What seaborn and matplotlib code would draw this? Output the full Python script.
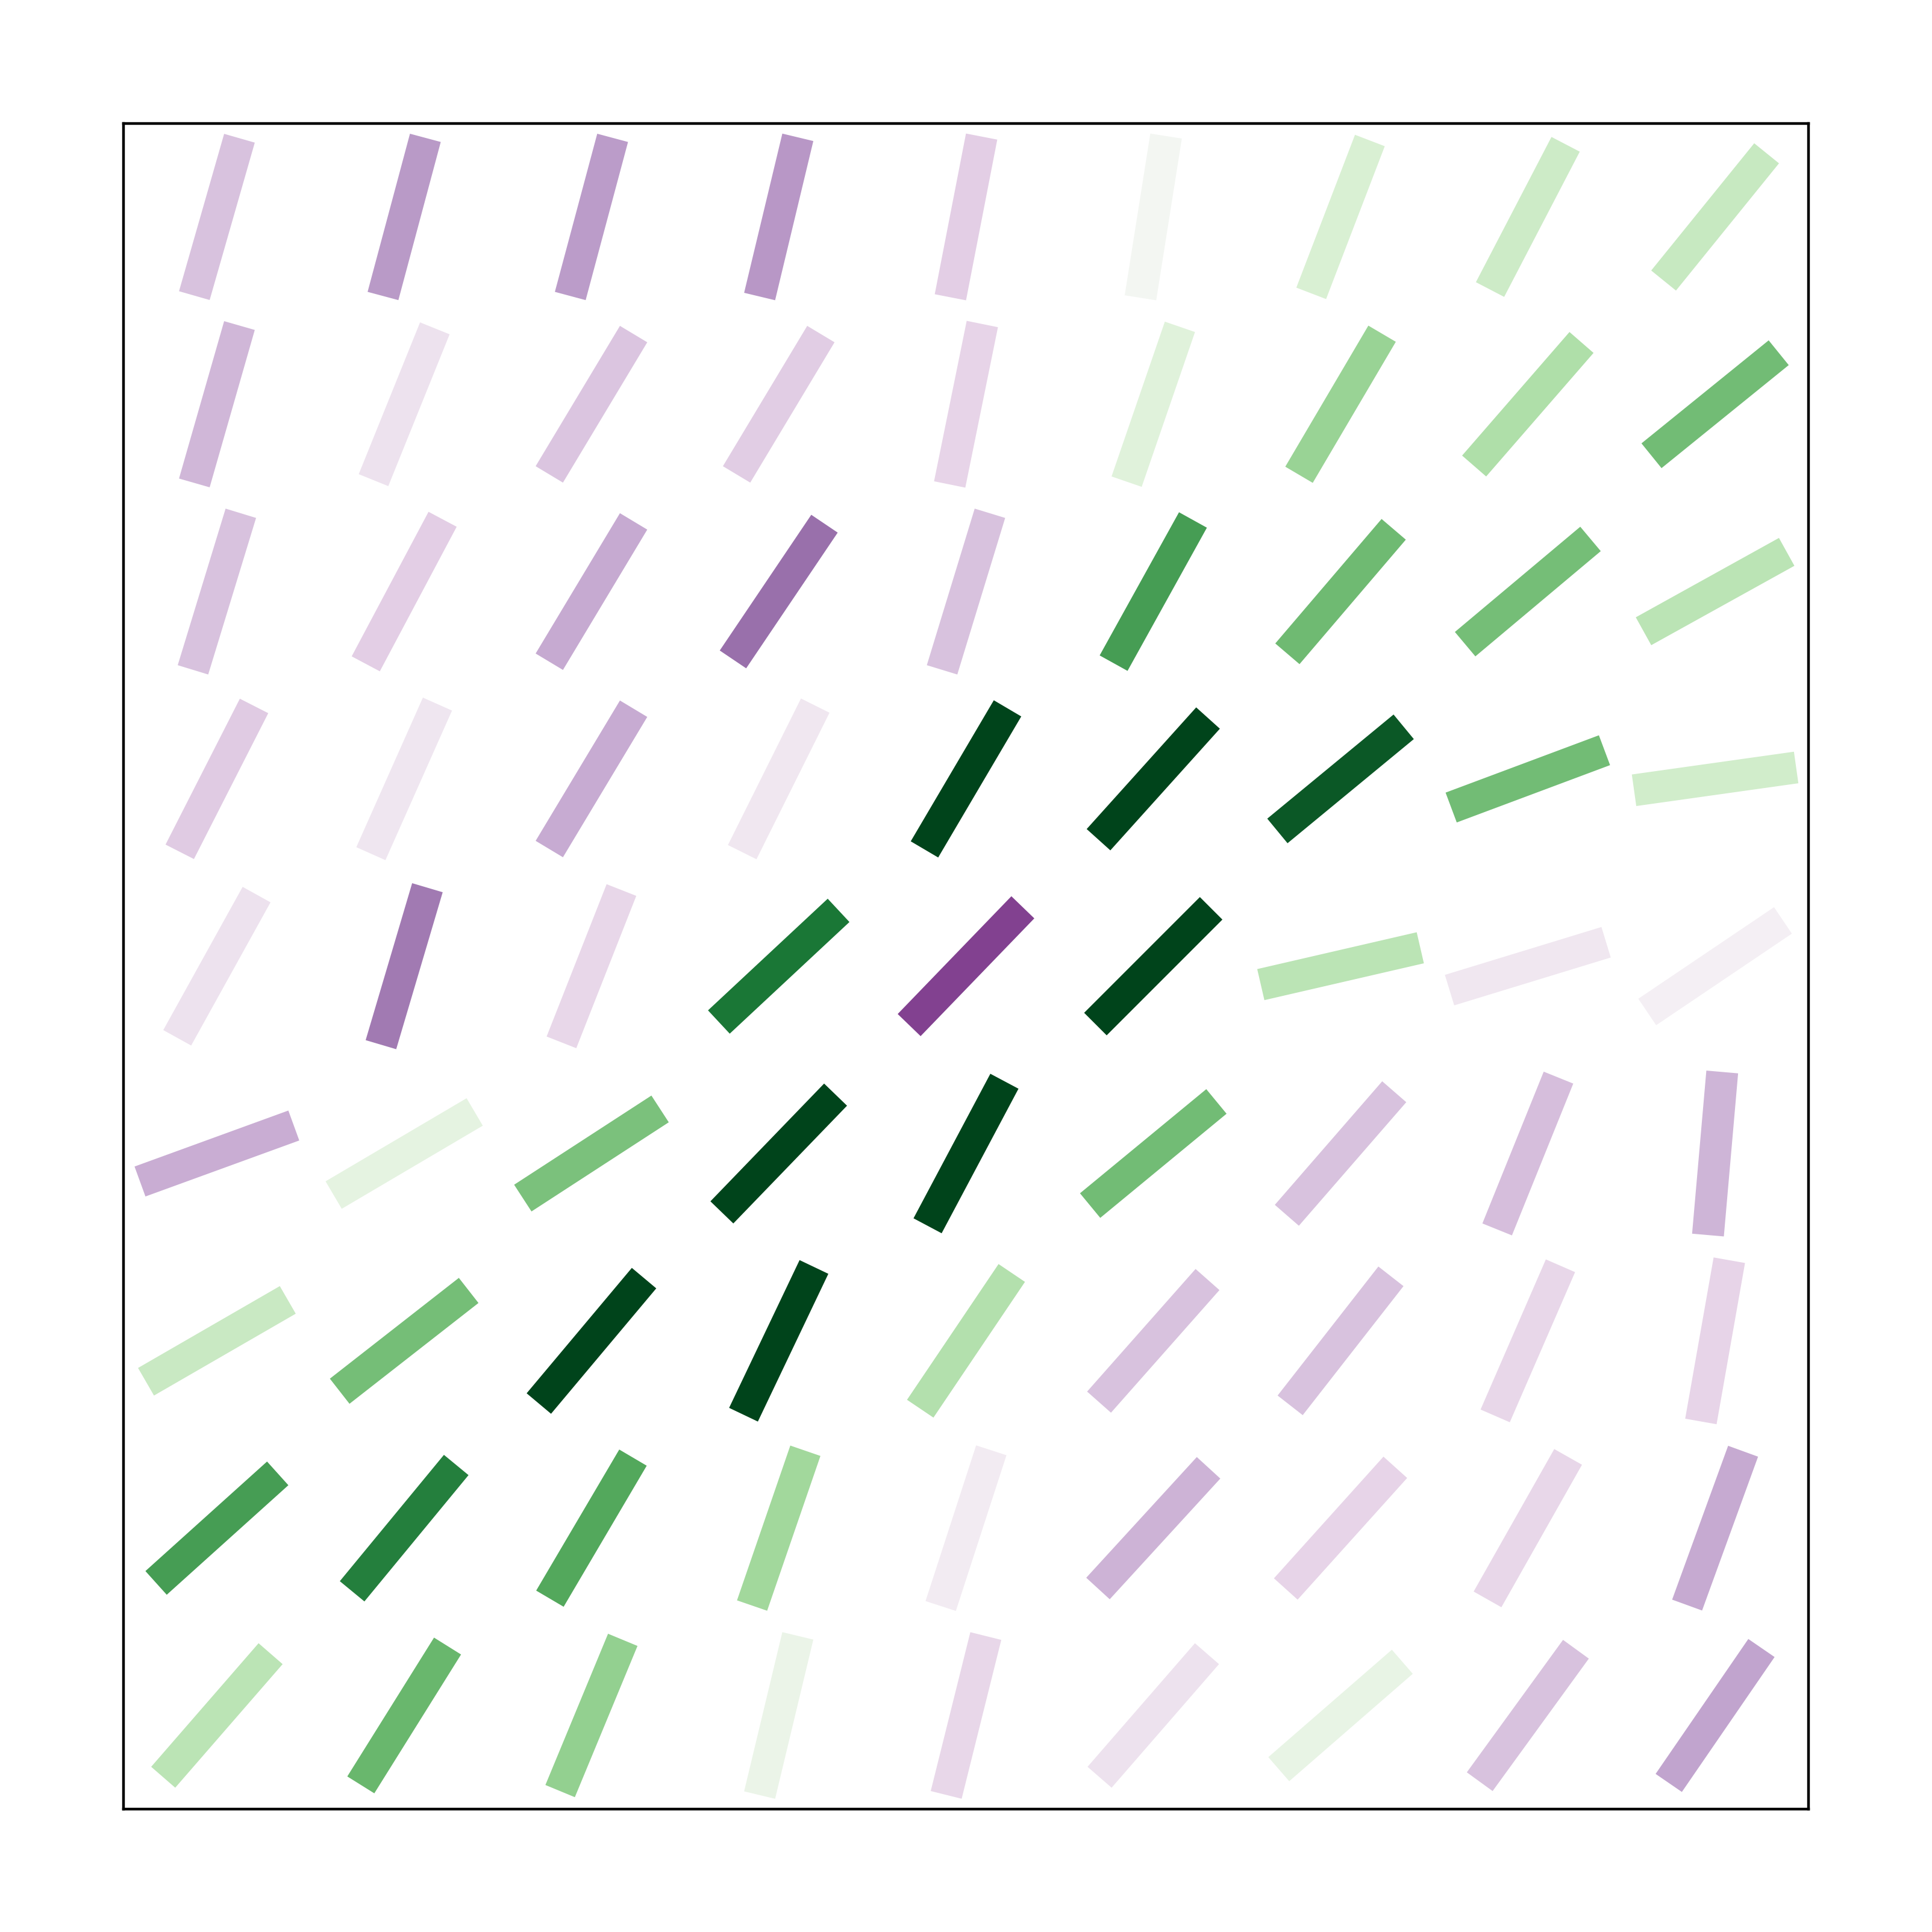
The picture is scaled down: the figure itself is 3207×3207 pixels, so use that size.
#%% import libraries
import numpy as np
import pandas as pd
import seaborn as sns
import matplotlib
matplotlib.use('Agg')
import matplotlib.pyplot as plt

#%% data, rows from top to bottom, columns left to right
# angle of each stroke in degrees, counter-clockwise from the x axis
angle = [
    [74, 75, 75, 76.5, 79, 81, 69, 62.5, 51],
    [74, 68, 59, 59, 78.5, 71, 59.5, 49, 39],
    [73, 62, 59, 56, 73, 61, 49.5, 40, 29],
    [63, 66, 59, 63.5, 59.5, 48, 39.5, 20.5, 8],
    [61, 73.5, 68.5, 43, 46, 45, 13, 17, 34],
    [20, 30.5, 33, 46, 62, 39.5, 49, 68, 85],
    [30, 38, 50, 64.5, 56, 48.5, 52, 66.5, 80],
    [42, 50.5, 59.5, 71, 72, 47.5, 48, 60.5, 70],
    [49, 58, 67.5, 76.5, 76, 49, 41, 54, 55.5],
]

# colour value of each stroke on the PRGn scale (0 = purple, 1 = green)
shade = [
    [0.36, 0.28, 0.285, 0.275, 0.39, 0.512, 0.60, 0.624, 0.634],
    [0.338, 0.44, 0.37, 0.385, 0.40, 0.577, 0.717, 0.68, 0.766],
    [0.36, 0.39, 0.31, 0.20, 0.36, 0.83, 0.77, 0.765, 0.66],
    [0.38, 0.45, 0.315, 0.455, 1.0, 1.0, 0.96, 0.766, 0.615],
    [0.44, 0.22, 0.41, 0.90, 0.134, 1.0, 0.66, 0.455, 0.48],
    [0.32, 0.56, 0.755, 1.0, 1.0, 0.766, 0.36, 0.355, 0.335],
    [0.63, 0.765, 1.0, 1.0, 0.675, 0.36, 0.36, 0.41, 0.40],
    [0.83, 0.886, 0.81, 0.707, 0.465, 0.33, 0.40, 0.41, 0.31],
    [0.66, 0.78, 0.725, 0.54, 0.41, 0.44, 0.55, 0.36, 0.30],
]

cols = [1, 2, 3, 4, 5, 6, 7, 8, 9]
rows = [9, 8, 7, 6, 5, 4, 3, 2, 1]

#%% build the segments (two ends per stroke)
half = 0.437
recs = []
k = 0
for i, yc in enumerate(rows):
    for j, xc in enumerate(cols):
        a = np.deg2rad(angle[i][j])
        dx, dy = half * np.cos(a), half * np.sin(a)
        recs.append({'seg': k, 'x': xc - dx, 'y': yc - dy, 'val': shade[i][j]})
        recs.append({'seg': k, 'x': xc + dx, 'y': yc + dy, 'val': shade[i][j]})
        k += 1
df = pd.DataFrame(recs)

#%% plot
fig = plt.figure(figsize=(8, 8), dpi=400.875)
ax = fig.add_axes([0.0638, 0.0636, 0.8724, 0.8726])

sns.lineplot(data=df, x='x', y='y', hue='val', units='seg', estimator=None,
             palette='PRGn', hue_norm=(0, 1), linewidth=9.5,
             solid_capstyle='butt', legend=False, sort=False, ax=ax)

ax.set_xlim(0.5, 9.5)
ax.set_ylim(0.5, 9.5)
ax.set_xticks([])
ax.set_yticks([])
ax.set_xlabel('')
ax.set_ylabel('')
for s in ax.spines.values():
    s.set_color('black')
    s.set_linewidth(0.8)

fig.savefig('out.png', dpi=400.875)
